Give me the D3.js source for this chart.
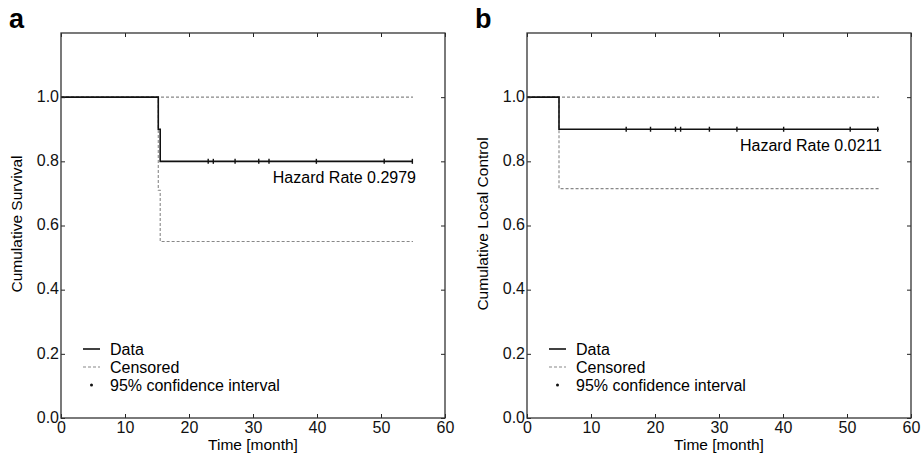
<html>
<head>
<style>
  body { margin: 0; background: #fff; }
  text { font-family: "Liberation Sans", Arial, sans-serif; }
</style>
</head>
<body>
<div id="chart"></div>
<script src="https://d3js.org/d3.v7.min.js"></script>
<script>
// panel a : cumulative survival
var aTimes = [0, 15.2, 15.5, 55];
var aSurv  = [1.0, 0.9, 0.8, 0.8];
var aUpper = [1.0, 1.0, 1.0, 1.0];
var aLower = [1.0, 0.71, 0.55, 0.55];
var aCensor = [23.0, 23.8, 27.2, 30.9, 32.5, 39.9, 50.5, 54.9];

// panel b : cumulative local control
var bTimes = [0, 5.0, 55];
var bSurv  = [1.0, 0.9, 0.9];
var bUpper = [1.0, 1.0, 1.0];
var bLower = [1.0, 0.715, 0.715];
var bCensor = [15.5, 19.3, 23.2, 24.0, 28.5, 32.8, 40.1, 50.5, 54.8];

var xTicks = [0, 10, 20, 30, 40, 50, 60];
var yTicks = [0.0, 0.2, 0.4, 0.6, 0.8, 1.0];
var legendLabels = ["Data", "Censored", "95% confidence interval"];

var width = 922, height = 455;
var svg = d3.select("#chart").append("svg")
  .attr("width", width).attr("height", height);

function panel(opt) {
  var x = d3.scaleLinear().domain([0, 60]).range([opt.left, opt.right]);
  var y = d3.scaleLinear().domain([0, 1.2]).range([418, 33]);
  var g = svg.append("g");

  var pts = function(ts, vs) { return ts.map(function(t, i) { return [t, vs[i]]; }); };
  var line = d3.line().x(function(d) { return x(d[0]); }).y(function(d) { return y(d[1]); })
    .curve(d3.curveStepAfter);

  // confidence bounds
  [opt.upper, opt.lower].forEach(function(v) {
    g.append("path").attr("d", line(pts(opt.times, v)))
      .attr("fill", "none").attr("stroke", "#888").attr("stroke-width", 1.1)
      .attr("stroke-dasharray", "3,2");
  });

  // km curve
  g.append("path").attr("d", line(pts(opt.times, opt.surv)))
    .attr("fill", "none").attr("stroke", "#111").attr("stroke-width", 1.6);

  // censor marks
  var last = opt.surv[opt.surv.length - 1];
  g.selectAll(".cens").data(opt.censor).enter().append("line")
    .attr("x1", function(d) { return x(d); }).attr("x2", function(d) { return x(d); })
    .attr("y1", y(last) - 2.5).attr("y2", y(last) + 2.5)
    .attr("stroke", "#111").attr("stroke-width", 1.4);

  g.append("text").attr("x", x(55) + 3).attr("y", y(last) + 22)
    .attr("text-anchor", "end").attr("font-size", 16).text(opt.hazard);

  // axes, ticks inward
  var ax = function(a) {
    a.selectAll(".domain").remove();
    a.selectAll(".tick line").attr("stroke", "#222");
    a.selectAll("text").attr("font-size", 16).attr("fill", "#111")
      .style("font-family", "'Liberation Sans', Arial, sans-serif");
  };
  g.append("g").attr("transform", "translate(0,418)")
    .call(d3.axisBottom(x).tickValues(xTicks).tickSize(-4).tickPadding(4).tickFormat(d3.format("d")))
    .call(ax);
  g.append("g").attr("transform", "translate(0,33)")
    .call(d3.axisTop(x).tickValues(xTicks).tickSize(-4).tickFormat(""))
    .call(ax);
  g.append("g").attr("transform", "translate(" + opt.left + ",0)")
    .call(d3.axisLeft(y).tickValues(yTicks).tickSize(-4).tickPadding(2).tickFormat(d3.format(".1f")))
    .call(ax)
    .call(function(a) { a.selectAll("text").attr("dy", "0.26em"); });
  g.append("g").attr("transform", "translate(" + opt.right + ",0)")
    .call(d3.axisRight(y).tickValues(yTicks).tickSize(-4).tickFormat(""))
    .call(ax);

  g.append("rect").attr("x", opt.left).attr("y", 33)
    .attr("width", opt.right - opt.left).attr("height", 418 - 33)
    .attr("fill", "none").attr("stroke", "#333").attr("stroke-width", 1.3);

  // labels
  g.append("text").attr("x", (opt.left + opt.right) / 2).attr("y", 450)
    .attr("text-anchor", "middle").attr("font-size", 15.5).text("Time [month]");
  g.append("text").attr("transform", "translate(" + (opt.left - 39) + ",224) rotate(-90)")
    .attr("text-anchor", "middle").attr("font-size", 15.5).text(opt.ylabel);
  g.append("text").attr("x", opt.left - 52).attr("y", 28)
    .attr("font-size", 27).attr("font-weight", "bold").text(opt.tag);

  // legend
  var lx = opt.left + 22, ly = 349;
  legendLabels.forEach(function(lab, i) {
    var yy = ly + i * 18;
    if (i === 0) {
      g.append("line").attr("x1", lx).attr("x2", lx + 17).attr("y1", yy).attr("y2", yy)
        .attr("stroke", "#111").attr("stroke-width", 1.6);
    } else if (i === 1) {
      g.append("line").attr("x1", lx).attr("x2", lx + 17).attr("y1", yy).attr("y2", yy)
        .attr("stroke", "#888").attr("stroke-width", 1.1).attr("stroke-dasharray", "3,2");
    } else {
      g.append("circle").attr("cx", lx + 8.5).attr("cy", yy).attr("r", 1.5).attr("fill", "#111");
    }
    g.append("text").attr("x", lx + 27).attr("y", yy + 5.5).attr("font-size", 16).text(lab);
  });
}

panel({ left: 61, right: 445, times: aTimes, surv: aSurv, upper: aUpper, lower: aLower,
  censor: aCensor, hazard: "Hazard Rate 0.2979", ylabel: "Cumulative Survival", tag: "a" });
panel({ left: 527, right: 911, times: bTimes, surv: bSurv, upper: bUpper, lower: bLower,
  censor: bCensor, hazard: "Hazard Rate 0.0211", ylabel: "Cumulative Local Control", tag: "b" });
</script>
</body>
</html>
